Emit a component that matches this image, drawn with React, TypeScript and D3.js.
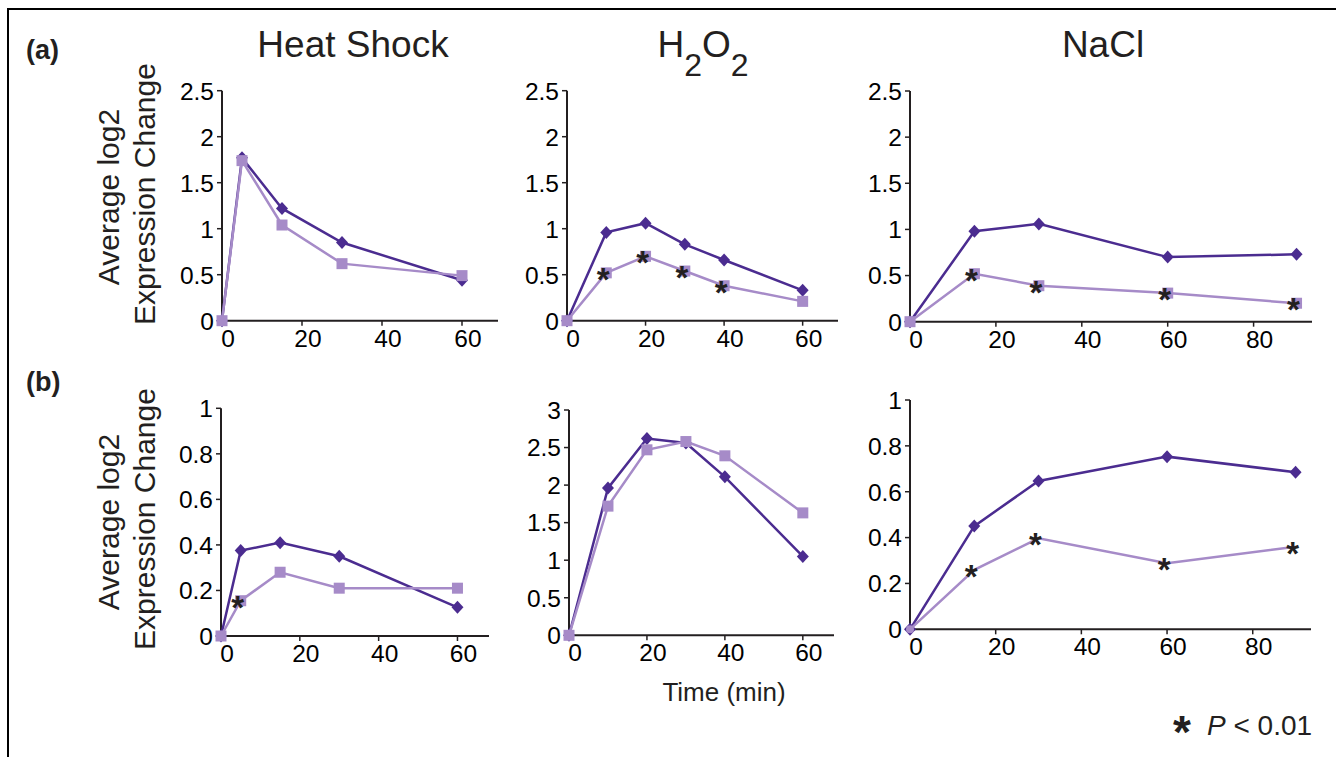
import React, { useEffect } from 'react';
import * as d3 from 'd3';

// time points (min)
const hsTimes = [0, 5, 15, 30, 60];
const h2o2Times = [0, 10, 20, 30, 40, 60];
const naclTimes = [0, 15, 30, 60, 90];

// row (a)
const hsDarkA = [0, 1.77, 1.22, 0.85, 0.44];
const hsLightA = [0, 1.74, 1.04, 0.62, 0.49];
const hsStarsA = [false, false, false, false, false];
const h2o2DarkA = [0, 0.96, 1.06, 0.83, 0.66, 0.33];
const h2o2LightA = [0, 0.52, 0.7, 0.54, 0.38, 0.21];
const h2o2StarsA = [false, true, true, true, true, false];
const naclDarkA = [0, 0.98, 1.06, 0.7, 0.73];
const naclLightA = [0, 0.52, 0.39, 0.31, 0.2];
const naclStarsA = [false, true, true, true, true];

// row (b)
const hsDarkB = [0, 0.375, 0.41, 0.35, 0.126];
const hsLightB = [0, 0.155, 0.28, 0.21, 0.21];
const hsStarsB = [false, true, false, false, false];
const h2o2DarkB = [0, 1.96, 2.62, 2.56, 2.11, 1.05];
const h2o2LightB = [0, 1.72, 2.47, 2.58, 2.39, 1.63];
const h2o2StarsB = [false, false, false, false, false, false];
const naclDarkB = [0, 0.45, 0.647, 0.753, 0.685];
const naclLightB = [0, 0.259, 0.397, 0.288, 0.36];
const naclStarsB = [false, true, true, true, true];

// tick labels
const yTicks25 = [0, 0.5, 1, 1.5, 2, 2.5];
const yTicks1 = [0, 0.2, 0.4, 0.6, 0.8, 1];
const yTicks3 = [0, 0.5, 1, 1.5, 2, 2.5, 3];
const xTicks60 = [0, 20, 40, 60];
const xTicks80 = [0, 20, 40, 60, 80];

const titles = ['Heat Shock', 'H2O2', 'NaCl'];

const DARK = '#4b2c90';
const LIGHT = '#a68bc8';
const INK = '#231f20';
const FONT = '"Liberation Sans", Arial, Helvetica, sans-serif';

type Panel = {
  times: number[];
  dark: number[];
  light: number[];
  stars: boolean[];
  squares: boolean;
  xTicks: number[];
  yTicks: number[];
  xMax: number;
  xRange: [number, number];
  yRange: [number, number];
};

const panels: Panel[] = [
  { times: hsTimes, dark: hsDarkA, light: hsLightA, stars: hsStarsA, squares: true, xTicks: xTicks60, yTicks: yTicks25, xMax: 69, xRange: [222, 498], yRange: [320.7, 90.7] },
  { times: h2o2Times, dark: h2o2DarkA, light: h2o2LightA, stars: h2o2StarsA, squares: true, xTicks: xTicks60, yTicks: yTicks25, xMax: 69, xRange: [567, 838], yRange: [320.7, 90.7] },
  { times: naclTimes, dark: naclDarkA, light: naclLightA, stars: naclStarsA, squares: true, xTicks: xTicks80, yTicks: yTicks25, xMax: 93.6, xRange: [910, 1312], yRange: [321.7, 91] },
  { times: hsTimes, dark: hsDarkB, light: hsLightB, stars: hsStarsB, squares: true, xTicks: xTicks60, yTicks: yTicks1, xMax: 68, xRange: [221, 489], yRange: [636, 408.3] },
  { times: h2o2Times, dark: h2o2DarkB, light: h2o2LightB, stars: h2o2StarsB, squares: true, xTicks: xTicks60, yTicks: yTicks3, xMax: 68, xRange: [569, 834], yRange: [635.3, 410] },
  { times: naclTimes, dark: naclDarkB, light: naclLightB, stars: naclStarsB, squares: false, xTicks: xTicks80, yTicks: yTicks1, xMax: 93.6, xRange: [910, 1311], yRange: [629.3, 400] },
];

const diamond = (cx: number, cy: number) =>
  `M${cx},${cy - 6.5}L${cx + 6},${cy}L${cx},${cy + 6.5}L${cx - 6},${cy}Z`;

const PanelView: React.FC<{ p: Panel }> = ({ p }) => {
  const yMax = p.yTicks[p.yTicks.length - 1];
  const x = d3.scaleLinear().domain([0, p.xMax]).range(p.xRange);
  const y = d3.scaleLinear().domain([0, yMax]).range(p.yRange);
  const line = d3.line<number>().x((_, i) => x(p.times[i])).y((d) => y(d));
  const x0 = x(0);
  const y0 = y(0);

  return (
    <g>
      {/* axes */}
      <line x1={x0} x2={x0} y1={y0} y2={y(yMax)} stroke={INK} strokeWidth={2} />
      <line x1={x0} x2={x(p.xMax)} y1={y0} y2={y0} stroke={INK} strokeWidth={2} />
      {p.yTicks.map((t) => (
        <g key={'y' + t}>
          <line x1={x0 - 5} x2={x0} y1={y(t)} y2={y(t)} stroke={INK} strokeWidth={1.5} />
          <text x={x0 - 8} y={y(t)} dy="0.36em" textAnchor="end" fontSize={24.5} fill="#000">
            {String(t)}
          </text>
        </g>
      ))}
      {p.xTicks.map((t) => (
        <g key={'x' + t}>
          <line x1={x(t)} x2={x(t)} y1={y0} y2={y0 + 5} stroke={INK} strokeWidth={1.5} />
          <text x={x(t) + 6} y={y0 + 26} textAnchor="middle" fontSize={24.5} fill="#000">
            {String(t)}
          </text>
        </g>
      ))}

      {/* dark series */}
      <path d={line(p.dark) || ''} fill="none" stroke={DARK} strokeWidth={2.5} />
      {p.dark.map((v, i) => (
        <path key={'d' + i} d={diamond(x(p.times[i]), y(v))} fill={DARK} />
      ))}

      {/* light series */}
      <path d={line(p.light) || ''} fill="none" stroke={LIGHT} strokeWidth={2.5} />
      {p.light.map((v, i) => {
        const cx = x(p.times[i]);
        const cy = y(v);
        if (!p.squares) {
          return i === 0 ? <circle key={'l' + i} cx={cx} cy={cy} r={4} fill={LIGHT} /> : null;
        }
        return <rect key={'l' + i} x={cx - 5.5} y={cy - 5.5} width={11} height={11} fill={LIGHT} />;
      })}
      {p.light.map((v, i) =>
        p.stars[i] ? (
          <text key={'s' + i} x={x(p.times[i]) - 3} y={y(v) + 18} textAnchor="middle" fontSize={33} fontWeight="bold" fill={INK}>
            *
          </text>
        ) : null
      )}
    </g>
  );
};

const App: React.FC = () => {
  useEffect(() => {
    document.body.style.margin = '0';
  }, []);

  const rowLabelY = [197, 522];

  return (
    <svg width={1336} height={757} style={{ display: 'block', background: '#fff' }} fontFamily={FONT}>
      <path d="M8,757V9H1336" fill="none" stroke="#000" strokeWidth={2} />

      <text x={26} y={59} fontSize={27} fontWeight="bold" fill={INK}>(a)</text>
      <text x={26} y={391} fontSize={27} fontWeight="bold" fill={INK}>(b)</text>

      {/* titles */}
      <text x={353} y={57} textAnchor="middle" fontSize={37} fill={INK}>{titles[0]}</text>
      <text x={703} y={57} textAnchor="middle" fontSize={37} fill={INK}>
        <tspan>H</tspan>
        <tspan dy={19} fontSize={32}>2</tspan>
        <tspan dy={-19}>O</tspan>
        <tspan dy={19} fontSize={32}>2</tspan>
      </text>
      <text x={1103} y={57} textAnchor="middle" fontSize={37} fill={INK}>{titles[2]}</text>

      {/* y-axis titles */}
      {rowLabelY.map((cy) => (
        <g key={cy}>
          <text transform={`translate(119,${cy}) rotate(-90)`} textAnchor="middle" fontSize={30} fill={INK}>
            Average log2
          </text>
          <text transform={`translate(155,${cy - 3}) rotate(-90)`} textAnchor="middle" fontSize={30} fill={INK}>
            Expression Change
          </text>
        </g>
      ))}

      {panels.map((p, i) => (
        <PanelView key={i} p={p} />
      ))}

      <text x={724} y={701} textAnchor="middle" fontSize={26} fill={INK}>Time (min)</text>

      {/* legend */}
      <text x={1182} y={748} textAnchor="middle" fontSize={46} fontWeight="bold" fill={INK}>*</text>
      <text x={1207} y={735} fontSize={28} fill={INK}>
        <tspan fontStyle="italic">P</tspan>
        <tspan> &lt; 0.01</tspan>
      </text>
    </svg>
  );
};

export default App;
